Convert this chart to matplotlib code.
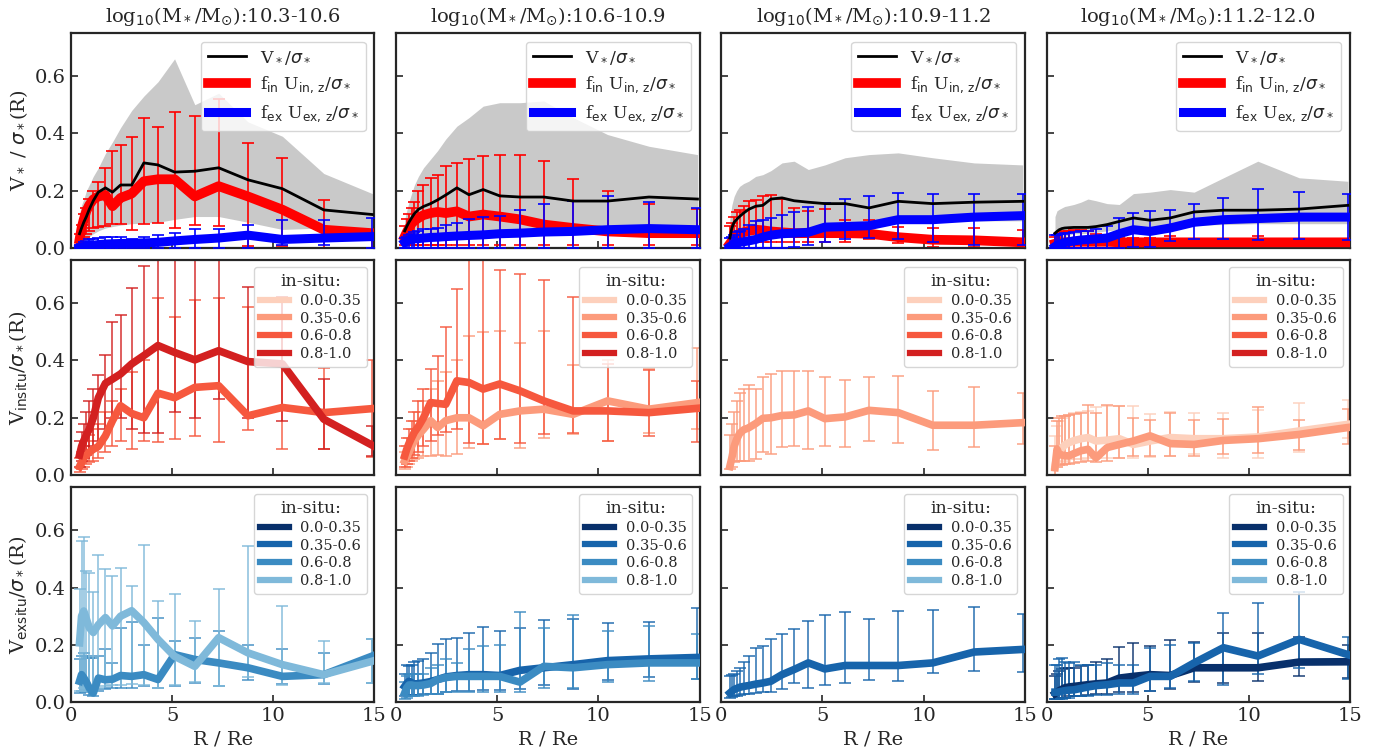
import numpy as np
import matplotlib
matplotlib.use('Agg')
import matplotlib.pyplot as plt
from matplotlib.lines import Line2D

# radial bins (R / Re)
R = [0.42, 0.52, 0.63, 0.76, 0.9, 1.1, 1.35, 1.7, 2.05, 2.45,
     3.0, 3.6, 4.3, 5.12, 6.12, 7.3, 8.75, 10.45, 12.5, 14.9]

mass_bins = ['10.3-10.6', '10.6-10.9', '10.9-11.2', '11.2-12.0']
insitu_bins = ['0.0-0.35', '0.35-0.6', '0.6-0.8', '0.8-1.0']

# ---- top row: V*/sigma*, f_in U_in, f_ex U_ex ----
vsig_1 = [0.05, 0.07, 0.09, 0.11, 0.135, 0.165, 0.195, 0.21, 0.195, 0.22, 0.22, 0.297, 0.29, 0.265, 0.268, 0.28, 0.238, 0.207, 0.133, 0.117]
band_hi_1 = [0.12, 0.15, 0.17, 0.2, 0.22, 0.25, 0.28, 0.33, 0.37, 0.42, 0.48, 0.53, 0.58, 0.66, 0.5, 0.54, 0.44, 0.39, 0.26, 0.19]
band_lo_1 = [0.0, 0.01, 0.02, 0.03, 0.04, 0.05, 0.06, 0.07, 0.075, 0.08, 0.085, 0.087, 0.09, 0.1, 0.11, 0.11, 0.09, 0.065, 0.07, 0.07]
fin_1 = [0.03, 0.07, 0.1, 0.13, 0.15, 0.17, 0.18, 0.185, 0.146, 0.175, 0.19, 0.233, 0.24, 0.24, 0.18, 0.216, 0.18, 0.134, 0.064, 0.052]
fin_hi_1 = [0.05, 0.08, 0.12, 0.14, 0.17, 0.2, 0.23, 0.28, 0.338, 0.361, 0.387, 0.452, 0.422, 0.474, 0.46, 0.52, 0.365, 0.315, 0.169, 0.06]
fin_lo_1 = [0.01, 0.03, 0.04, 0.05, 0.06, 0.07, 0.075, 0.076, 0.085, 0.085, 0.064, 0.085, 0.087, 0.07, 0.082, 0.078, 0.006, 0.006, 0.0, 0.0]
fex_1 = [0.0, 0.003, 0.005, 0.007, 0.009, 0.01, 0.012, 0.014, 0.015, 0.016, 0.017, 0.018, 0.02, 0.025, 0.03, 0.035, 0.045, 0.03, 0.035, 0.04]
fex_hi_1 = [0.01, 0.015, 0.02, 0.025, 0.03, 0.033, 0.036, 0.037, 0.038, 0.038, 0.031, 0.04, 0.045, 0.052, 0.066, 0.066, 0.081, 0.097, 0.097, 0.105]
fex_lo_1 = [0.0] * 17 + [0.012, 0.01, 0.0]

vsig_2 = [0.06, 0.075, 0.09, 0.105, 0.12, 0.135, 0.145, 0.155, 0.168, 0.185, 0.21, 0.186, 0.204, 0.182, 0.178, 0.178, 0.164, 0.164, 0.178, 0.171]
band_hi_2 = [0.1, 0.13, 0.16, 0.19, 0.22, 0.25, 0.28, 0.31, 0.34, 0.38, 0.425, 0.455, 0.495, 0.507, 0.507, 0.513, 0.455, 0.396, 0.355, 0.326]
band_lo_2 = [0.0, 0.005, 0.01, 0.015, 0.02, 0.025, 0.03, 0.035, 0.04, 0.045, 0.05, 0.055, 0.058, 0.06, 0.062, 0.065, 0.07, 0.075, 0.075, 0.075]
fin_2 = [0.04, 0.055, 0.07, 0.085, 0.095, 0.105, 0.115, 0.122, 0.126, 0.122, 0.128, 0.11, 0.117, 0.11, 0.1, 0.082, 0.07, 0.058, 0.052, 0.052]
fin_hi_2 = [0.076, 0.1, 0.12, 0.14, 0.16, 0.2, 0.22, 0.245, 0.256, 0.285, 0.297, 0.309, 0.32, 0.323, 0.323, 0.303, 0.241, 0.2, 0.152, 0.136]
fin_lo_2 = [0.01] * 20
fex_2 = [0.02, 0.025, 0.028, 0.03, 0.032, 0.033, 0.035, 0.037, 0.038, 0.04, 0.042, 0.044, 0.046, 0.05, 0.052, 0.056, 0.058, 0.064, 0.068, 0.064]
fex_hi_2 = [0.035, 0.04, 0.045, 0.05, 0.055, 0.058, 0.065, 0.068, 0.07, 0.082, 0.087, 0.1, 0.11, 0.113, 0.132, 0.152, 0.163, 0.18, 0.16, 0.14]
fex_lo_2 = [0.0] * 20

vsig_3 = [0.035, 0.07, 0.09, 0.1, 0.11, 0.122, 0.135, 0.146, 0.149, 0.171, 0.175, 0.165, 0.16, 0.155, 0.155, 0.14, 0.163, 0.155, 0.16, 0.163]
band_hi_3 = [0.1, 0.15, 0.18, 0.2, 0.215, 0.225, 0.233, 0.25, 0.256, 0.27, 0.297, 0.303, 0.274, 0.29, 0.315, 0.326, 0.332, 0.315, 0.297, 0.29]
band_lo_3 = [0.0, 0.01, 0.02, 0.025, 0.03, 0.035, 0.04, 0.045, 0.05, 0.055, 0.06, 0.065, 0.07, 0.08, 0.085, 0.09, 0.095, 0.095, 0.095, 0.095]
fin_3 = [0.015, 0.025, 0.035, 0.045, 0.05, 0.055, 0.06, 0.064, 0.062, 0.058, 0.055, 0.052, 0.052, 0.052, 0.052, 0.05, 0.038, 0.029, 0.027, 0.02]
fin_hi_3 = [0.076, 0.087, 0.11, 0.125, 0.134, 0.146, 0.163, 0.169, 0.18, 0.186, 0.17, 0.14, 0.13, 0.136, 0.097, 0.097, 0.075, 0.069, 0.07, 0.062]
fin_lo_3 = [0.0, 0.0, 0.01, 0.01, 0.015, 0.015, 0.02, 0.02, 0.02, 0.02, 0.02, 0.02, 0.02, 0.02, 0.02, 0.03, 0.017, 0.005, 0.005, 0.005]
fex_3 = [0.005, 0.01, 0.015, 0.018, 0.02, 0.022, 0.025, 0.03, 0.038, 0.045, 0.05, 0.052, 0.055, 0.073, 0.075, 0.078, 0.099, 0.099, 0.108, 0.113]
fex_hi_3 = [0.035, 0.04, 0.045, 0.055, 0.06, 0.065, 0.08, 0.093, 0.099, 0.105, 0.117, 0.126, 0.142, 0.157, 0.172, 0.18, 0.192, 0.189, 0.188, 0.188]
fex_lo_3 = [0.0] * 11 + [0.005, 0.01, 0.02, 0.03, 0.035, 0.03, 0.02, 0.01, 0.01]

vsig_4 = [0.052, 0.058, 0.064, 0.068, 0.07, 0.071, 0.072, 0.072, 0.072, 0.075, 0.082, 0.093, 0.105, 0.097, 0.105, 0.126, 0.132, 0.132, 0.136, 0.149]
band_hi_4 = [0.11, 0.13, 0.135, 0.14, 0.145, 0.148, 0.152, 0.16, 0.171, 0.165, 0.155, 0.152, 0.19, 0.195, 0.204, 0.195, 0.245, 0.303, 0.245, 0.233]
band_lo_4 = [0.02, 0.025, 0.03, 0.035, 0.04, 0.045, 0.05, 0.05, 0.052, 0.055, 0.06, 0.065, 0.07, 0.075, 0.075, 0.08, 0.082, 0.085, 0.085, 0.085]
fin_4 = [0.015, 0.017, 0.018, 0.02, 0.02, 0.021, 0.022, 0.022, 0.022, 0.022, 0.022, 0.02, 0.02, 0.02, 0.02, 0.02, 0.02, 0.02, 0.02, 0.02]
fin_hi_4 = [0.04, 0.045, 0.05, 0.055, 0.058, 0.06, 0.062, 0.062, 0.06, 0.05, 0.045, 0.038, 0.035, 0.035, 0.043, 0.033, 0.033, 0.041, 0.033, 0.03]
fin_lo_4 = [0.0] * 20
fex_4 = [0.005, 0.01, 0.013, 0.016, 0.019, 0.022, 0.025, 0.028, 0.03, 0.032, 0.035, 0.05, 0.064, 0.058, 0.07, 0.09, 0.099, 0.103, 0.108, 0.108]
fex_hi_4 = [0.045, 0.047, 0.048, 0.05, 0.052, 0.054, 0.056, 0.058, 0.06, 0.068, 0.076, 0.105, 0.122, 0.128, 0.134, 0.152, 0.175, 0.206, 0.196, 0.19]
fex_lo_4 = [0.0] * 12 + [0.003, 0.005, 0.023, 0.031, 0.031, 0.029, 0.031, 0.029]

# ---- middle row: V_insitu / sigma*, per in-situ fraction bin ----
vin_1_q3 = [0.03, 0.045, 0.06, 0.07, 0.08, 0.09, 0.1, 0.137, 0.19, 0.242, 0.215, 0.2, 0.286, 0.27, 0.306, 0.312, 0.207, 0.236, 0.218, 0.232]
vin_1_q3_hi = [0.06, 0.08, 0.1, 0.12, 0.14, 0.16, 0.18, 0.22, 0.26, 0.3, 0.36, 0.4, 0.617, 0.553, 0.611, 0.618, 0.585, 0.62, 0.374, 0.4]
vin_1_q3_lo = [0.01, 0.02, 0.03, 0.04, 0.045, 0.05, 0.06, 0.08, 0.1, 0.12, 0.09, 0.12, 0.115, 0.127, 0.137, 0.115, 0.156, 0.092, 0.092, 0.063]
vin_1_q4 = [0.07, 0.1, 0.12, 0.14, 0.16, 0.2, 0.27, 0.32, 0.335, 0.353, 0.388, 0.417, 0.452, 0.428, 0.402, 0.434, 0.396, 0.388, 0.195, 0.104]
vin_1_q4_hi = [0.12, 0.15, 0.18, 0.22, 0.26, 0.3, 0.35, 0.42, 0.533, 0.56, 0.654, 0.73, 0.8, 0.8, 0.8, 0.8, 0.656, 0.62, 0.335, 0.17]
vin_1_q4_lo = [0.03, 0.05, 0.06, 0.07, 0.08, 0.1, 0.12, 0.16, 0.2, 0.2, 0.16, 0.148, 0.148, 0.22, 0.198, 0.267, 0.2, 0.19, 0.09, 0.065]

vin_2_q2 = [0.05, 0.065, 0.08, 0.1, 0.12, 0.14, 0.16, 0.19, 0.166, 0.19, 0.2, 0.2, 0.172, 0.212, 0.224, 0.23, 0.212, 0.259, 0.23, 0.253]
vin_2_q2_hi = [0.08, 0.1, 0.13, 0.16, 0.19, 0.22, 0.26, 0.3, 0.33, 0.36, 0.403, 0.487, 0.498, 0.504, 0.461, 0.502, 0.385, 0.4, 0.37, 0.442]
vin_2_q2_lo = [0.02, 0.03, 0.04, 0.05, 0.055, 0.06, 0.065, 0.067, 0.07, 0.065, 0.072, 0.093, 0.107, 0.125, 0.096, 0.13, 0.142, 0.12, 0.148, 0.16]
vin_2_q3 = [0.067, 0.09, 0.11, 0.13, 0.15, 0.17, 0.2, 0.253, 0.25, 0.247, 0.329, 0.323, 0.3, 0.318, 0.294, 0.259, 0.224, 0.224, 0.218, 0.233]
vin_2_q3_hi = [0.1, 0.13, 0.16, 0.19, 0.22, 0.26, 0.3, 0.37, 0.417, 0.516, 0.65, 0.8, 0.8, 0.714, 0.703, 0.682, 0.621, 0.388, 0.367, 0.33]
vin_2_q3_lo = [0.03, 0.04, 0.05, 0.06, 0.07, 0.08, 0.1, 0.12, 0.14, 0.15, 0.16, 0.113, 0.107, 0.125, 0.113, 0.142, 0.148, 0.119, 0.137, 0.117]

vin_3_q2 = [0.03, 0.06, 0.1, 0.125, 0.145, 0.158, 0.165, 0.18, 0.198, 0.2, 0.208, 0.21, 0.224, 0.197, 0.203, 0.226, 0.218, 0.174, 0.174, 0.183]
vin_3_q2_hi = [0.14, 0.18, 0.22, 0.257, 0.288, 0.3, 0.314, 0.3, 0.344, 0.353, 0.364, 0.364, 0.364, 0.341, 0.333, 0.341, 0.347, 0.294, 0.308, 0.286]
vin_3_q2_lo = [0.02, 0.03, 0.045, 0.05, 0.05, 0.049, 0.05, 0.055, 0.08, 0.072, 0.099, 0.1, 0.09, 0.1, 0.099, 0.119, 0.113, 0.088, 0.098, 0.107]

vin_4_q1 = [0.03, 0.07, 0.084, 0.095, 0.105, 0.113, 0.12, 0.127, 0.131, 0.119, 0.122, 0.127, 0.107, 0.119, 0.131, 0.127, 0.127, 0.133, 0.154, 0.177]
vin_4_q1_hi = [0.137, 0.17, 0.19, 0.2, 0.205, 0.21, 0.215, 0.22, 0.225, 0.236, 0.24, 0.242, 0.242, 0.212, 0.22, 0.215, 0.215, 0.226, 0.25, 0.261]
vin_4_q1_lo = [0.0, 0.03, 0.04, 0.045, 0.05, 0.055, 0.055, 0.055, 0.06, 0.06, 0.06, 0.06, 0.06, 0.063, 0.065, 0.072, 0.06, 0.06, 0.082, 0.13]
vin_4_q2 = [0.026, 0.09, 0.072, 0.07, 0.068, 0.067, 0.075, 0.085, 0.09, 0.06, 0.096, 0.107, 0.119, 0.137, 0.11, 0.107, 0.121, 0.127, 0.142, 0.166]
vin_4_q2_hi = [0.1, 0.19, 0.2, 0.205, 0.207, 0.21, 0.214, 0.216, 0.245, 0.218, 0.245, 0.242, 0.2, 0.193, 0.215, 0.191, 0.195, 0.238, 0.191, 0.232]
vin_4_q2_lo = [0.0, 0.03, 0.035, 0.037, 0.038, 0.04, 0.042, 0.045, 0.049, 0.045, 0.05, 0.058, 0.067, 0.067, 0.067, 0.067, 0.072, 0.078, 0.086, 0.11]

# ---- bottom row: V_exsitu / sigma*, per in-situ fraction bin ----
vex_1_q3 = [0.073, 0.096, 0.085, 0.07, 0.05, 0.032, 0.084, 0.078, 0.08, 0.093, 0.09, 0.096, 0.079, 0.166, 0.149, 0.137, 0.12, 0.09, 0.096, 0.161]
vex_1_q3_hi = [0.149, 0.16, 0.17, 0.16, 0.155, 0.155, 0.16, 0.184, 0.137, 0.26, 0.278, 0.2, 0.292, 0.213, 0.225, 0.25, 0.2, 0.186, 0.172, 0.22]
vex_1_q3_lo = [0.032, 0.04, 0.04, 0.035, 0.025, 0.02, 0.04, 0.045, 0.05, 0.05, 0.05, 0.055, 0.05, 0.055, 0.067, 0.055, 0.079, 0.063, 0.063, 0.067]
vex_1_q4 = [0.207, 0.3, 0.318, 0.29, 0.26, 0.243, 0.27, 0.295, 0.266, 0.3, 0.319, 0.278, 0.219, 0.16, 0.125, 0.225, 0.172, 0.131, 0.096, 0.143]
vex_1_q4_hi = [0.395, 0.562, 0.577, 0.456, 0.45, 0.386, 0.512, 0.463, 0.44, 0.468, 0.407, 0.55, 0.354, 0.377, 0.284, 0.395, 0.544, 0.336, 0.213, 0.219]
vex_1_q4_lo = [0.04, 0.04, 0.05, 0.05, 0.045, 0.04, 0.05, 0.055, 0.06, 0.06, 0.065, 0.061, 0.049, 0.059, 0.07, 0.055, 0.087, 0.061, 0.067, 0.067]

vex_2_q2 = [0.055, 0.065, 0.073, 0.068, 0.063, 0.065, 0.067, 0.072, 0.079, 0.088, 0.093, 0.096, 0.096, 0.093, 0.111, 0.12, 0.131, 0.145, 0.151, 0.156]
vex_2_q2_hi = [0.1, 0.131, 0.125, 0.131, 0.14, 0.145, 0.15, 0.17, 0.204, 0.219, 0.225, 0.243, 0.263, 0.249, 0.26, 0.287, 0.29, 0.276, 0.278, 0.327]
vex_2_q2_lo = [0.02, 0.025, 0.025, 0.025, 0.025, 0.025, 0.03, 0.03, 0.03, 0.035, 0.04, 0.04, 0.043, 0.043, 0.045, 0.061, 0.047, 0.079, 0.087, 0.082]
vex_2_q3 = [0.032, 0.05, 0.06, 0.06, 0.058, 0.058, 0.06, 0.065, 0.079, 0.086, 0.09, 0.09, 0.09, 0.09, 0.07, 0.125, 0.12, 0.131, 0.137, 0.137]
vex_2_q3_hi = [0.07, 0.09, 0.1, 0.1, 0.1, 0.1, 0.1, 0.12, 0.13, 0.15, 0.137, 0.184, 0.196, 0.2, 0.313, 0.258, 0.305, 0.25, 0.266, 0.237]
vex_2_q3_lo = [0.01, 0.015, 0.02, 0.02, 0.02, 0.02, 0.025, 0.03, 0.03, 0.035, 0.035, 0.035, 0.035, 0.035, 0.035, 0.05, 0.05, 0.07, 0.075, 0.082]

vex_3_q2 = [0.032, 0.038, 0.044, 0.048, 0.052, 0.055, 0.058, 0.063, 0.067, 0.073, 0.096, 0.114, 0.137, 0.116, 0.128, 0.128, 0.128, 0.137, 0.175, 0.184]
vex_3_q2_hi = [0.09, 0.095, 0.1, 0.108, 0.12, 0.14, 0.16, 0.19, 0.196, 0.219, 0.237, 0.254, 0.284, 0.305, 0.315, 0.29, 0.319, 0.322, 0.331, 0.307]
vex_3_q2_lo = [0.014, 0.018, 0.02, 0.022, 0.025, 0.028, 0.03, 0.032, 0.035, 0.037, 0.045, 0.067, 0.049, 0.061, 0.067, 0.079, 0.073, 0.102, 0.108, 0.105]

vex_4_q1 = [0.03, 0.035, 0.04, 0.045, 0.05, 0.053, 0.055, 0.058, 0.061, 0.064, 0.067, 0.084, 0.09, 0.096, 0.093, 0.12, 0.12, 0.12, 0.14, 0.141]
vex_4_q1_hi = [0.09, 0.1, 0.11, 0.115, 0.12, 0.12, 0.12, 0.125, 0.13, 0.14, 0.15, 0.192, 0.207, 0.196, 0.216, 0.21, 0.24, 0.243, 0.229, 0.2]
vex_4_q1_lo = [0.01, 0.012, 0.015, 0.015, 0.015, 0.02, 0.02, 0.02, 0.025, 0.03, 0.03, 0.035, 0.035, 0.04, 0.045, 0.07, 0.067, 0.075, 0.09, 0.084]
vex_4_q2 = [0.035, 0.035, 0.036, 0.038, 0.04, 0.042, 0.043, 0.048, 0.053, 0.058, 0.061, 0.067, 0.067, 0.09, 0.09, 0.137, 0.19, 0.161, 0.219, 0.166]
vex_4_q2_hi = [0.13, 0.13, 0.15, 0.155, 0.14, 0.135, 0.14, 0.13, 0.13, 0.13, 0.135, 0.13, 0.13, 0.19, 0.2, 0.205, 0.31, 0.346, 0.383, 0.229]
vex_4_q2_lo = [0.01, 0.01, 0.012, 0.012, 0.015, 0.015, 0.02, 0.02, 0.02, 0.025, 0.025, 0.03, 0.03, 0.04, 0.05, 0.075, 0.06, 0.1, 0.12, 0.082]

top_panels = [
    (vsig_1, band_lo_1, band_hi_1, fin_1, fin_lo_1, fin_hi_1, fex_1, fex_lo_1, fex_hi_1),
    (vsig_2, band_lo_2, band_hi_2, fin_2, fin_lo_2, fin_hi_2, fex_2, fex_lo_2, fex_hi_2),
    (vsig_3, band_lo_3, band_hi_3, fin_3, fin_lo_3, fin_hi_3, fex_3, fex_lo_3, fex_hi_3),
    (vsig_4, band_lo_4, band_hi_4, fin_4, fin_lo_4, fin_hi_4, fex_4, fex_lo_4, fex_hi_4),
]
# (in-situ bin index, values, lower, upper)
insitu_panels = [
    [(2, vin_1_q3, vin_1_q3_lo, vin_1_q3_hi), (3, vin_1_q4, vin_1_q4_lo, vin_1_q4_hi)],
    [(1, vin_2_q2, vin_2_q2_lo, vin_2_q2_hi), (2, vin_2_q3, vin_2_q3_lo, vin_2_q3_hi)],
    [(1, vin_3_q2, vin_3_q2_lo, vin_3_q2_hi)],
    [(0, vin_4_q1, vin_4_q1_lo, vin_4_q1_hi), (1, vin_4_q2, vin_4_q2_lo, vin_4_q2_hi)],
]
exsitu_panels = [
    [(2, vex_1_q3, vex_1_q3_lo, vex_1_q3_hi), (3, vex_1_q4, vex_1_q4_lo, vex_1_q4_hi)],
    [(1, vex_2_q2, vex_2_q2_lo, vex_2_q2_hi), (2, vex_2_q3, vex_2_q3_lo, vex_2_q3_hi)],
    [(1, vex_3_q2, vex_3_q2_lo, vex_3_q2_hi)],
    [(0, vex_4_q1, vex_4_q1_lo, vex_4_q1_hi), (1, vex_4_q2, vex_4_q2_lo, vex_4_q2_hi)],
]

reds = [plt.cm.Reds(v) for v in (0.18, 0.35, 0.55, 0.72)]
blues = [plt.cm.Blues(v) for v in (1.0, 0.8, 0.65, 0.45)]

INK = '#262626'
plt.rcParams.update({
    'font.family': 'DejaVu Serif',
    'font.size': 13,
    'axes.edgecolor': INK,
    'axes.linewidth': 1.6,
    'text.color': INK,
    'axes.labelcolor': INK,
    'xtick.color': INK,
    'ytick.color': INK,
    'xtick.direction': 'in',
    'ytick.direction': 'in',
    'xtick.major.size': 5,
    'ytick.major.size': 5,
    'xtick.major.width': 1.2,
    'ytick.major.width': 1.2,
    'xtick.labelsize': 14,
    'ytick.labelsize': 14,
})


def yerr(y, lo, hi):
    y = np.asarray(y)
    return [np.clip(y - np.asarray(lo), 0, None), np.clip(np.asarray(hi) - y, 0, None)]


def insitu_legend(ax, colors):
    handles = [Line2D([], [], color=c, lw=4.5) for c in colors]
    leg = ax.legend(handles, insitu_bins, title='in-situ:', loc='upper right',
                    fontsize=10.5, title_fontsize=12.5, handlelength=2.0,
                    labelspacing=0.25, framealpha=0.8, edgecolor='#cccccc',
                    borderpad=0.4)
    return leg


fig, axes = plt.subplots(3, 4, figsize=(13.93, 7.51), dpi=100, sharex=True, sharey=True)
fig.subplots_adjust(left=0.051, right=0.969, top=0.956, bottom=0.065, wspace=0.072, hspace=0.056)

for j in range(4):
    vsig, blo, bhi, fin, fin_lo, fin_hi, fex, fex_lo, fex_hi = top_panels[j]
    ax = axes[0, j]
    ax.fill_between(R, blo, bhi, color='0.79', lw=0, zorder=1)
    ax.errorbar(R, fin, yerr=yerr(fin, fin_lo, fin_hi), fmt='none', ecolor='red',
                elinewidth=1.2, capsize=4.5, capthick=1.2, zorder=2)
    ax.plot(R, fin, color='red', lw=7, zorder=3, label=r'f$_{\rm in}$ U$_{\rm in,\,z}$/$\sigma_*$')
    ax.errorbar(R, fex, yerr=yerr(fex, fex_lo, fex_hi), fmt='none', ecolor='blue',
                elinewidth=1.2, capsize=4.5, capthick=1.2, zorder=4)
    ax.plot(R, fex, color='blue', lw=6.5, zorder=5, label=r'f$_{\rm ex}$ U$_{\rm ex,\,z}$/$\sigma_*$')
    ax.plot(R, vsig, color='black', lw=2, zorder=6, label=r'V$_*$/$\sigma_*$')
    h, l = ax.get_legend_handles_labels()
    order = [2, 0, 1]
    ax.legend([h[k] for k in order], [l[k] for k in order], loc='upper right',
              fontsize=12.5, handlelength=2.2, framealpha=0.8, edgecolor='#cccccc')
    ax.set_title(r'log$_{10}$(M$_*$/M$_{\odot}$):' + mass_bins[j], fontsize=14, pad=8)

    ax = axes[1, j]
    for q, y, lo, hi in insitu_panels[j]:
        ax.errorbar(R, y, yerr=yerr(y, lo, hi), fmt='none', ecolor=reds[q], alpha=0.85,
                    elinewidth=1.2, capsize=4, capthick=1.2, zorder=2)
        ax.plot(R, y, color=reds[q], lw=5.5, zorder=3)
    insitu_legend(ax, reds)

    ax = axes[2, j]
    for q, y, lo, hi in exsitu_panels[j]:
        ax.errorbar(R, y, yerr=yerr(y, lo, hi), fmt='none', ecolor=blues[q], alpha=0.85,
                    elinewidth=1.2, capsize=4, capthick=1.2, zorder=2)
        ax.plot(R, y, color=blues[q], lw=5.5, zorder=3)
    insitu_legend(ax, blues)
    ax.set_xlabel('R / Re', fontsize=14)

for ax in axes.flat:
    ax.set_xlim(0, 15)
    ax.set_ylim(0, 0.75)
    ax.set_xticks([0, 5, 10, 15])
    ax.set_yticks([0.0, 0.2, 0.4, 0.6])
    ax.yaxis.set_major_formatter(matplotlib.ticker.FormatStrFormatter('%.1f'))

axes[0, 0].set_ylabel(r'V$_*$ / $\sigma_*$(R)', fontsize=14)
axes[1, 0].set_ylabel(r'V$_{\rm insitu}$/$\sigma_*$(R)', fontsize=14)
axes[2, 0].set_ylabel(r'V$_{\rm exsitu}$/$\sigma_*$(R)', fontsize=14)

fig.savefig('out.png', dpi=100)
